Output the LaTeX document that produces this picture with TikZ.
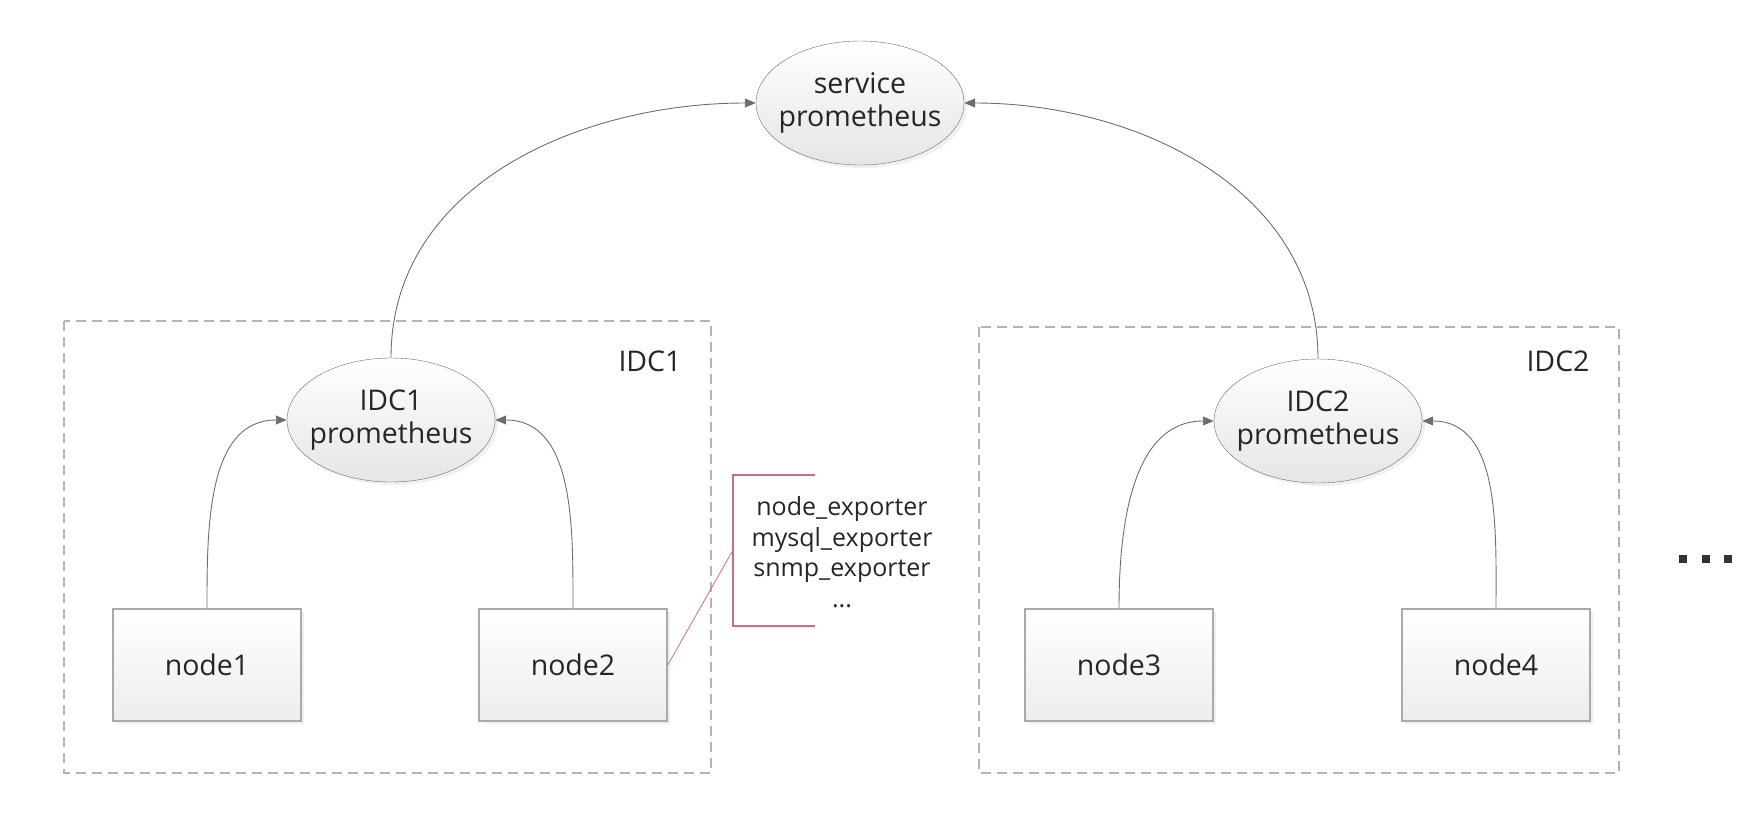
\documentclass[tikz,border=0pt]{standalone}
\usepackage{fontspec}
\setmainfont{Open Sans}
\usetikzlibrary{shapes.geometric,arrows.meta,shadows}

\definecolor{edgegray}{RGB}{110,110,110}
\definecolor{boxgray}{RGB}{170,170,170}
\definecolor{dashgray}{RGB}{180,180,180}
\definecolor{calloutred}{RGB}{200,110,135}
\definecolor{dotgray}{RGB}{51,51,51}

\tikzset{
  prom/.style={ellipse, draw=edgegray, top color=white, bottom color=black!10,
    minimum width=208pt, minimum height=124pt, inner xsep=-8pt, inner ysep=0pt, align=center,
    font=\fontsize{28.5}{33}\selectfont, text=black!85,
    drop shadow={opacity=0.12, shadow xshift=3pt, shadow yshift=-3pt}},
  hostbox/.style={rectangle, draw=boxgray, line width=1.5pt, top color=white, bottom color=black!7,
    minimum width=188pt, minimum height=112pt, inner sep=0pt,
    font=\fontsize{28.5}{33}\selectfont, text=black!85,
    drop shadow={opacity=0.12, shadow xshift=3pt, shadow yshift=-3pt}},
  idcbox/.style={draw=dashgray, line width=2pt, dash pattern=on 10pt off 6pt},
  link/.style={-{Triangle[length=11pt,width=9pt]}, draw=edgegray, line width=0.9pt},
  callout/.style={draw=calloutred, line width=1.2pt}
}

\begin{document}
\begin{tikzpicture}[x=1pt,y=-1pt]
    \useasboundingbox (0,0) rectangle (1750,812);

    % IDC areas
    \draw[idcbox] (64,321) rectangle (711,773);
    \draw[idcbox] (979,327) rectangle (1619,773);
    \node[font=\fontsize{28.5}{33}\selectfont, text=black!85] (idc1lbl) at (650,361) {IDC1};
    \node[font=\fontsize{28.5}{33}\selectfont, text=black!85] (idc2lbl) at (1558,361) {IDC2};

    \node[prom] (svc) at (860,103) {service\\prometheus};
    \node[prom] (idc1) at (391,420) {IDC1\\prometheus};
    \node[prom] (idc2) at (1318,421) {IDC2\\prometheus};

    \node[hostbox] (node1) at (207,665) {node1};
    \node[hostbox] (node2) at (573,665) {node2};
    \node[hostbox] (node3) at (1119,665) {node3};
    \node[hostbox] (node4) at (1496,665) {node4};

    \draw[link] (node1.north) to[out=90, in=180] (idc1.west);
    \draw[link] (node2.north) to[out=90, in=0] (idc1.east);
    \draw[link] (node3.north) to[out=90, in=180] (idc2.west);
    \draw[link] (node4.north) to[out=90, in=0] (idc2.east);
    \draw[link] (idc1.north) to[out=90, in=180] (svc.west);
    \draw[link] (idc2.north) to[out=90, in=0] (svc.east);

    % exporters note
    \node[align=center, font=\fontsize{25}{30.5}\selectfont, text=black!85] (exp) at (842,552)
        {node\_exporter\\mysql\_exporter\\snmp\_exporter\\...};
    \coordinate (brk) at (733,550);
    \draw[callout] (815,475) -- (733,475) -- (733,626) -- (815,626);
    \draw[callout, line width=0.8pt] (node2.east) -- (brk);

    % more IDCs
    \foreach \x in {1683,1706,1728}
        \fill[dotgray] (\x-4,555) rectangle (\x+4,563);
\end{tikzpicture}
\end{document}
